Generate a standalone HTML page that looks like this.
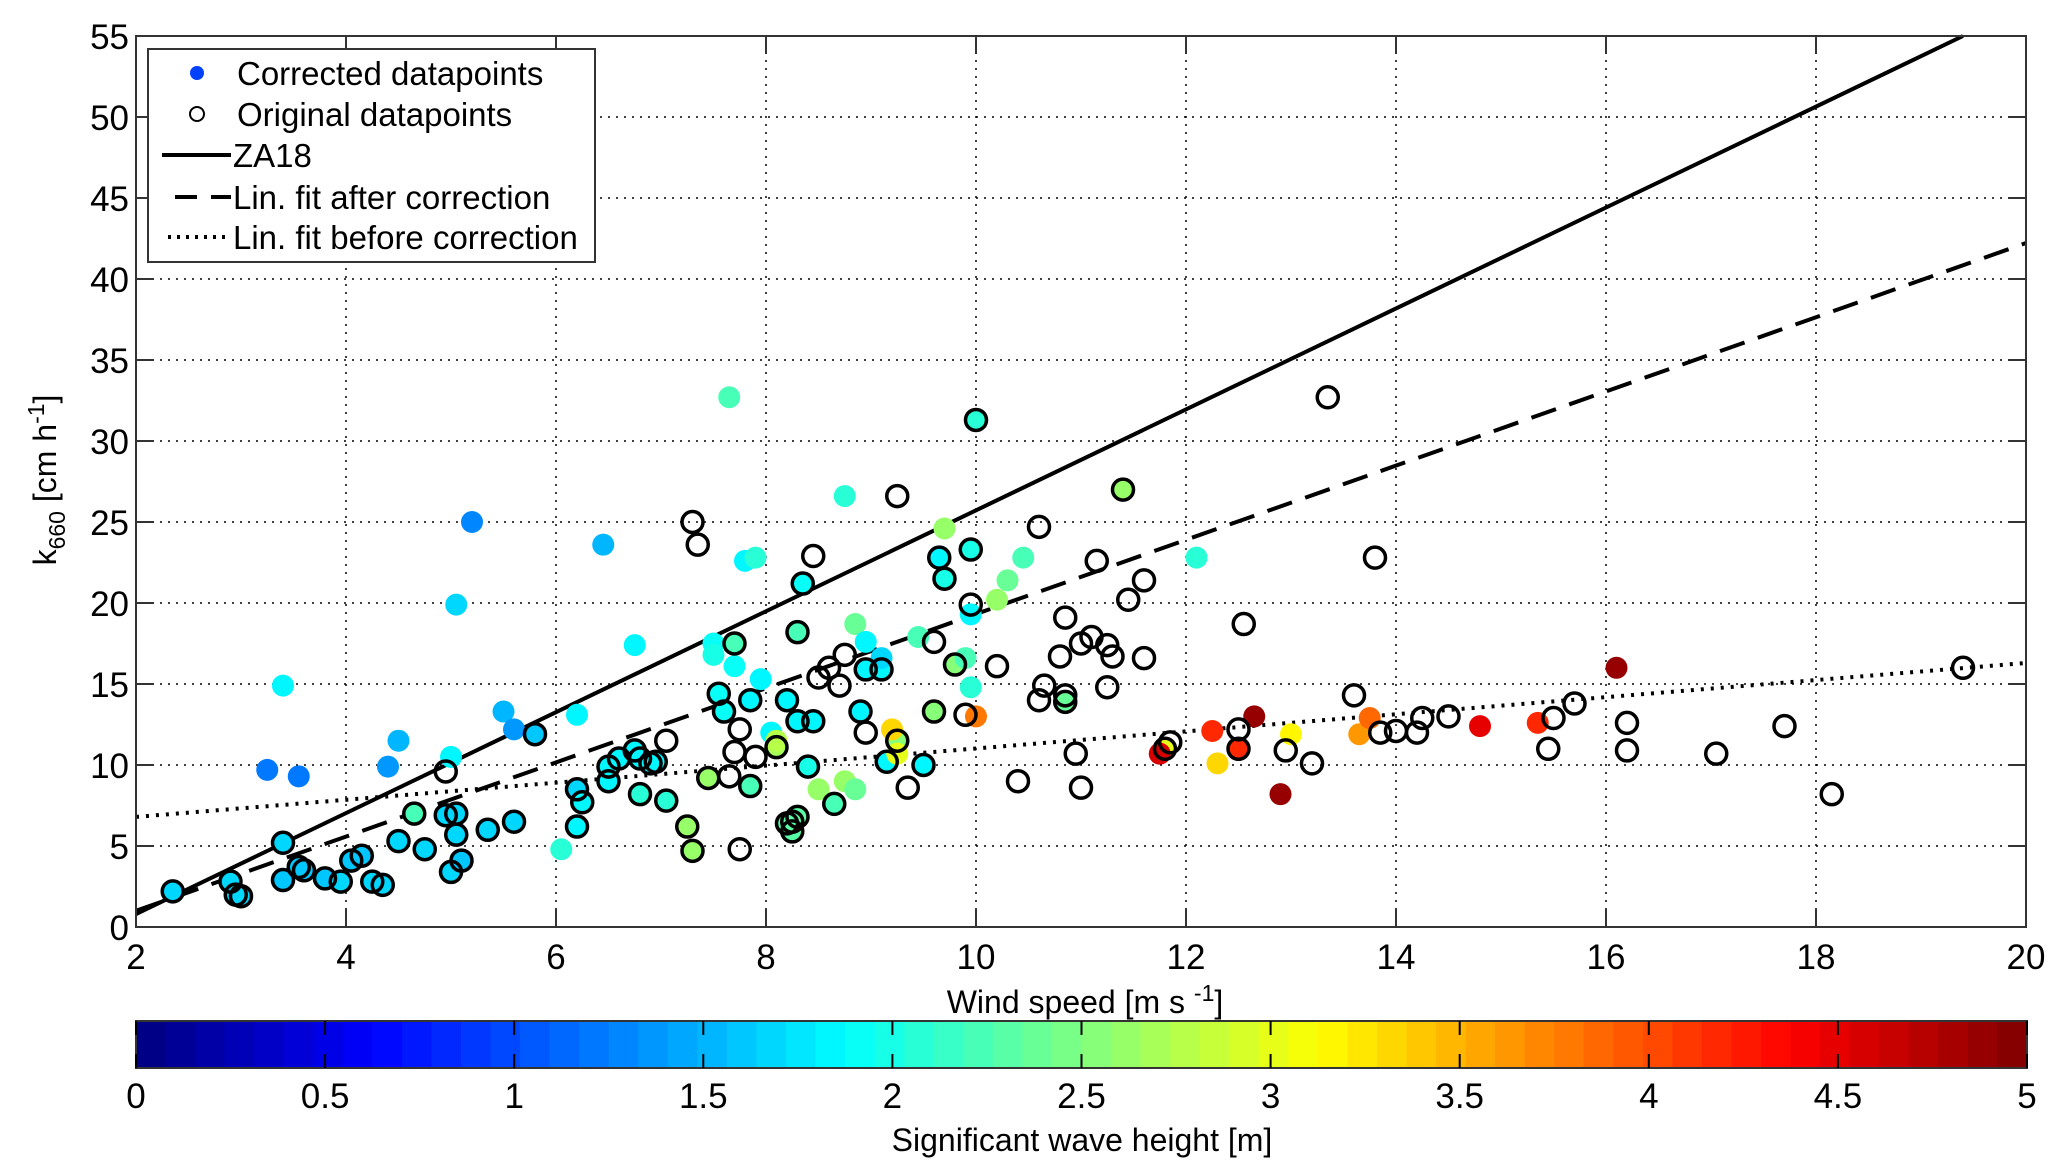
<!DOCTYPE html>
<html><head><meta charset="utf-8">
<style>
html,body{margin:0;padding:0;background:#fff;}
svg{display:block;font-family:"Liberation Sans",Arial,sans-serif;}
</style></head>
<body>
<svg id="chart" width="2067" height="1174" viewBox="0 0 2067 1174" xmlns="http://www.w3.org/2000/svg">
<g id="grid"></g>
<g id="lines"></g>
<g id="points"></g>
<g id="axes"></g>
<g id="legend"></g>
<g id="cbar"></g>
</svg>
<script>
// ---- data ----
const xTicks = [2,4,6,8,10,12,14,16,18,20];
const yTicks = [0,5,10,15,20,25,30,35,40,45,50,55];
const cTicks = [0,0.5,1,1.5,2,2.5,3,3.5,4,4.5,5];
const cTickLabels = ["0","0.5","1","1.5","2","2.5","3","3.5","4","4.5","5"];
const corrX = [2.35,2.9,2.95,3.0,3.4,3.4,3.55,3.6,3.8,3.95,4.05,4.15,4.25,4.35,4.5,4.65,4.75,4.95,5.0,5.05,5.05,5.1,5.35,5.6,5.8,
 3.25,3.4,3.55,4.4,4.5,5.05,5.2,5.5,5.6,5.0,6.05,6.2,6.45,6.75,
 6.2,6.25,6.2,6.5,6.5,6.6,6.75,6.8,6.9,6.95,6.8,7.05,7.25,7.3,7.45,7.55,7.6,7.7,7.85,7.85,8.1,
 7.5,7.5,7.65,7.8,7.9,7.7,7.95,8.05,8.1,
 8.2,8.25,8.3,8.25,8.3,8.35,8.3,8.45,8.2,8.4,8.65,8.9,8.95,9.1,9.15,9.5,9.25,9.6,9.65,9.7,9.8,9.95,10.0,
 8.75,8.85,8.95,8.5,8.75,8.85,9.1,9.45,9.7,9.9,9.95,9.95,9.2,9.25,10.0,10.2,10.3,10.45,
 10.85,11.4,11.8,11.75,12.1,12.25,12.3,12.5,12.65,12.9,13.0,13.65,13.75,14.8,15.35,16.1];
const corrY = [2.2,2.8,2.0,1.9,5.2,2.9,3.7,3.5,3.0,2.8,4.1,4.4,2.8,2.6,5.3,7.0,4.8,6.9,3.4,7.0,5.7,4.1,6.0,6.5,11.9,
 9.7,14.9,9.3,9.9,11.5,19.9,25.0,13.3,12.2,10.5,4.8,13.1,23.6,17.4,
 8.5,7.7,6.2,9.0,9.9,10.4,10.9,10.4,10.1,10.2,8.2,7.8,6.2,4.7,9.2,14.4,13.3,17.5,8.7,14.0,11.1,
 17.5,16.8,32.7,22.6,22.8,16.1,15.3,12.0,11.5,
 6.4,6.5,6.8,5.9,18.2,21.2,12.7,12.7,14.0,9.9,7.6,13.3,15.9,15.9,10.2,10.0,11.5,13.3,22.8,21.5,16.2,23.3,31.3,
 26.6,18.7,17.6,8.5,9.0,8.5,16.6,17.9,24.6,16.6,14.8,19.3,12.2,10.7,13.0,20.2,21.4,22.8,
 13.9,27.0,11.0,10.7,22.8,12.1,10.1,11.0,13.0,8.2,11.9,11.9,12.9,12.4,12.6,16.0];
const corrH = [1.7,1.7,1.7,1.7,1.7,1.6,1.6,1.6,1.6,1.7,1.6,1.6,1.7,1.7,1.7,2.2,1.7,1.7,1.7,1.7,1.7,1.6,1.7,1.7,1.6,
 1.2,1.8,1.2,1.4,1.5,1.7,1.3,1.5,1.4,1.8,2.1,1.8,1.5,1.8,
 1.7,1.8,1.8,1.8,1.8,1.8,1.8,1.8,1.8,1.8,2.1,2.1,2.6,2.6,2.6,1.9,1.9,2.2,2.2,1.8,2.7,
 1.9,2.0,2.2,1.8,2.1,1.9,1.8,1.8,2.8,
 2.3,2.3,2.3,2.3,2.2,1.9,1.8,1.8,1.8,2.0,2.2,1.8,1.8,1.8,1.8,1.8,2.5,2.5,1.8,2.0,2.5,2.0,2.1,
 2.1,2.4,1.8,2.6,2.6,2.4,1.7,2.2,2.6,2.2,2.1,1.8,3.3,3.0,3.8,2.6,2.4,2.2,
 2.4,2.6,3.0,4.6,2.1,4.2,3.3,4.2,4.9,4.9,3.2,3.6,3.9,4.5,4.2,4.9];
const origX = [2.35,2.9,2.95,3.0,3.4,3.4,3.55,3.6,3.8,3.95,4.05,4.15,4.25,4.35,4.5,4.65,4.75,4.95,5.0,5.05,5.05,5.1,5.35,5.6,5.8,4.95,
 6.2,6.25,6.2,6.5,6.5,6.6,6.75,6.8,6.9,6.95,6.8,7.05,7.25,7.3,7.45,7.55,7.6,7.7,7.85,7.85,8.1,
 7.3,7.35,7.65,7.7,7.75,7.75,7.9,7.05,
 8.2,8.25,8.3,8.25,8.3,8.35,8.3,8.45,8.2,8.4,8.65,8.9,8.95,9.1,9.15,9.5,9.25,9.6,9.65,9.7,9.8,9.95,10.0,
 8.45,8.5,8.6,8.75,8.7,8.95,9.25,9.35,9.6,9.95,9.9,
 10.2,10.4,10.6,10.6,10.65,10.8,10.85,10.85,11.0,10.95,11.0,11.1,11.15,11.25,11.25,11.3,11.45,11.6,11.6,11.85,11.4,11.8,10.85,
 12.5,12.55,12.5,12.95,13.2,13.35,13.6,13.8,13.85,14.0,14.2,14.25,14.5,15.45,15.5,15.7,16.2,16.2,17.05,17.7,18.15,19.4];
const origY = [2.2,2.8,2.0,1.9,5.2,2.9,3.7,3.5,3.0,2.8,4.1,4.4,2.8,2.6,5.3,7.0,4.8,6.9,3.4,7.0,5.7,4.1,6.0,6.5,11.9,9.6,
 8.5,7.7,6.2,9.0,9.9,10.4,10.9,10.4,10.1,10.2,8.2,7.8,6.2,4.7,9.2,14.4,13.3,17.5,8.7,14.0,11.1,
 25.0,23.6,9.3,10.8,12.2,4.8,10.5,11.5,
 6.4,6.5,6.8,5.9,18.2,21.2,12.7,12.7,14.0,9.9,7.6,13.3,15.9,15.9,10.2,10.0,11.5,13.3,22.8,21.5,16.2,23.3,31.3,
 22.9,15.4,16.0,16.8,14.9,12.0,26.6,8.6,17.6,19.9,13.1,
 16.1,9.0,14.0,24.7,14.9,16.7,19.1,14.3,17.5,10.7,8.6,17.9,22.6,17.4,14.8,16.7,20.2,21.4,16.6,11.4,27.0,11.0,13.9,
 12.2,18.7,11.0,10.9,10.1,32.7,14.3,22.8,12.0,12.1,12.0,12.9,13.0,11.0,12.9,13.8,12.6,10.9,10.7,12.4,8.2,16.0];
// lines: intercept, slope
const za18 = [-5.43, 3.115];
const fitAfter = [-3.58, 2.29];
const fitBefore = [5.74, 0.528];

// ---- layout ----
const L=136,R=2026,T=36,B=927;
const xMin=2,xMax=20,yMin=0,yMax=55;
const sx=v=>L+(v-xMin)/(xMax-xMin)*(R-L);
const sy=v=>B-(v-yMin)/(yMax-yMin)*(B-T);
const NS="http://www.w3.org/2000/svg";
function mk(tag,attrs,parent){const e=document.createElementNS(NS,tag);for(const k in attrs)e.setAttribute(k,attrs[k]);parent.appendChild(e);return e;}
function jet(t){t=Math.max(0,Math.min(1,t));
 const r=Math.max(0,Math.min(1,1.5-Math.abs(4*t-3)));
 const g=Math.max(0,Math.min(1,1.5-Math.abs(4*t-2)));
 const b=Math.max(0,Math.min(1,1.5-Math.abs(4*t-1)));
 return `rgb(${Math.round(r*255)},${Math.round(g*255)},${Math.round(b*255)})`;}
function hcol(h){const i=Math.min(63,Math.floor(h/5*64));return jet((i+0.5)/64);}

const grid=document.getElementById('grid');
xTicks.forEach(v=>{if(v>xMin&&v<xMax){const l=mk('line',{x1:sx(v),x2:sx(v),y1:T,y2:B,stroke:'#000','stroke-width':1.5,'stroke-dasharray':'2 6'},grid);

}});
yTicks.forEach(v=>{if(v>yMin&&v<yMax){const l=mk('line',{x1:L,x2:R,y1:sy(v),y2:sy(v),stroke:'#000','stroke-width':1.5,'stroke-dasharray':'2 6'},grid);

}});

const lg=document.getElementById('lines');
function fitLine(p,name,dash){
 let x0=xMin,x1=xMax;
 let y0=p[0]+p[1]*x0,y1=p[0]+p[1]*x1;
 if(y1>yMax){x1=(yMax-p[0])/p[1];y1=yMax;}
 const a={x1:sx(x0),y1:sy(y0),x2:sx(x1),y2:sy(y1),stroke:'#000','stroke-width':4};
 if(dash==='dash')a['stroke-dasharray']='26 14';
 if(dash==='dot')a['stroke-dasharray']='3 7';
 const l=mk('line',a,lg);
 
 
}
fitLine(za18,'za18-line','solid');
fitLine(fitAfter,'fit-after-correction-line','dash');
fitLine(fitBefore,'fit-before-correction-line','dot');

const pg=document.getElementById('points');
corrX.forEach((x,i)=>{const c=mk('circle',{cx:sx(x),cy:sy(corrY[i]),r:11,fill:hcol(corrH[i])},pg);

});
origX.forEach((x,i)=>{const c=mk('circle',{cx:sx(x),cy:sy(origY[i]),r:10.5,fill:'none',stroke:'#000','stroke-width':3.5},pg);

});

const ax=document.getElementById('axes');
const box=mk('rect',{x:L,y:T,width:R-L,height:B-T,fill:'none',stroke:'#333','stroke-width':2},ax);


xTicks.forEach(v=>{
 mk('line',{x1:sx(v),x2:sx(v),y1:B,y2:B-18,stroke:'#333','stroke-width':2},ax);
 mk('line',{x1:sx(v),x2:sx(v),y1:T,y2:T+18,stroke:'#333','stroke-width':2},ax);
 const t=mk('text',{x:sx(v),y:B+42,'font-size':35,'text-anchor':'middle',fill:'#000'},ax);t.textContent=v;
 
 
});
yTicks.forEach(v=>{
 mk('line',{x1:L,x2:L+18,y1:sy(v),y2:sy(v),stroke:'#333','stroke-width':2},ax);
 mk('line',{x1:R,x2:R-18,y1:sy(v),y2:sy(v),stroke:'#333','stroke-width':2},ax);
 const t=mk('text',{x:L-7,y:sy(v)+13,'font-size':35,'text-anchor':'end',fill:'#000'},ax);t.textContent=v;
 
 
});

const chart=document.getElementById('chart');
const xt=document.createElementNS(NS,'text');
xt.setAttribute('x',1085);xt.setAttribute('y',1013);xt.setAttribute('font-size',32);xt.setAttribute('text-anchor','middle');
xt.innerHTML='Wind speed [m s <tspan dy="-12" font-size="23">-1</tspan><tspan dy="12">]</tspan>';


chart.appendChild(xt);
const yt=document.createElementNS(NS,'text');
yt.setAttribute('transform','translate(56,480) rotate(-90)');yt.setAttribute('font-size',32);yt.setAttribute('text-anchor','middle');
yt.innerHTML='k<tspan dy="9" font-size="23">660</tspan><tspan dy="-9"> [cm h</tspan><tspan dy="-12" font-size="23">-1</tspan><tspan dy="12">]</tspan>';


chart.appendChild(yt);

const lgd=document.getElementById('legend');
const lb=mk('rect',{x:148,y:49,width:447,height:213,fill:'#fff',stroke:'#333','stroke-width':2},lgd);


const entries=[["Corrected datapoints",73,'fill'],["Original datapoints",114,'open'],["ZA18",155,'solid'],["Lin. fit after correction",197,'dash'],["Lin. fit before correction",237,'dot']];
entries.forEach(e=>{
 const g=mk('g',{},lgd);
 
 
 if(e[2]==='fill')mk('circle',{cx:197,cy:e[1],r:7,fill:'#0040ff'},g);
 else if(e[2]==='open')mk('circle',{cx:197,cy:e[1],r:7,fill:'none',stroke:'#000','stroke-width':2},g);
 else{const a={x1:162,x2:231,y1:e[1],y2:e[1],stroke:'#000','stroke-width':4};
  if(e[2]==='dash'){a['stroke-dasharray']='22 14';a.x1=175;}
  if(e[2]==='dot'){a['stroke-dasharray']='3 6';a.x1=168;}
  mk('line',a,g);}
 const t=mk('text',{x:e[2]==='fill'||e[2]==='open'?237:233,y:e[1]+12,'font-size':33,fill:'#000',textLength:e[0]==='ZA18'?null:undefined},g);
 t.removeAttribute('textLength');
 t.textContent=e[0];
});

const cb=document.getElementById('cbar');
const cL=136,cR=2027,cT=1021,cB=1068;
for(let i=0;i<64;i++){
 const r=mk('rect',{x:cL+i*(cR-cL)/64,y:cT,width:(cR-cL)/64+0.6,height:cB-cT,fill:jet((i+0.5)/64)},cb);
 
 
}
const cf=mk('rect',{x:cL,y:cT,width:cR-cL,height:cB-cT,fill:'none',stroke:'#333','stroke-width':2},cb);


cTicks.forEach((v,i)=>{
 const x=cL+v/5*(cR-cL);
 mk('line',{x1:x,x2:x,y1:cT,y2:cT+14,stroke:'#000','stroke-width':2},cb);
 mk('line',{x1:x,x2:x,y1:cB,y2:cB-14,stroke:'#000','stroke-width':2},cb);
 const t=mk('text',{x:x,y:1108,'font-size':35,'text-anchor':'middle',fill:'#000'},cb);t.textContent=cTickLabels[i];
 
 
});
const ct=mk('text',{x:1082,y:1151,'font-size':32,'text-anchor':'middle',fill:'#000'},cb);ct.textContent='Significant wave height [m]';


</script>
</body></html>
